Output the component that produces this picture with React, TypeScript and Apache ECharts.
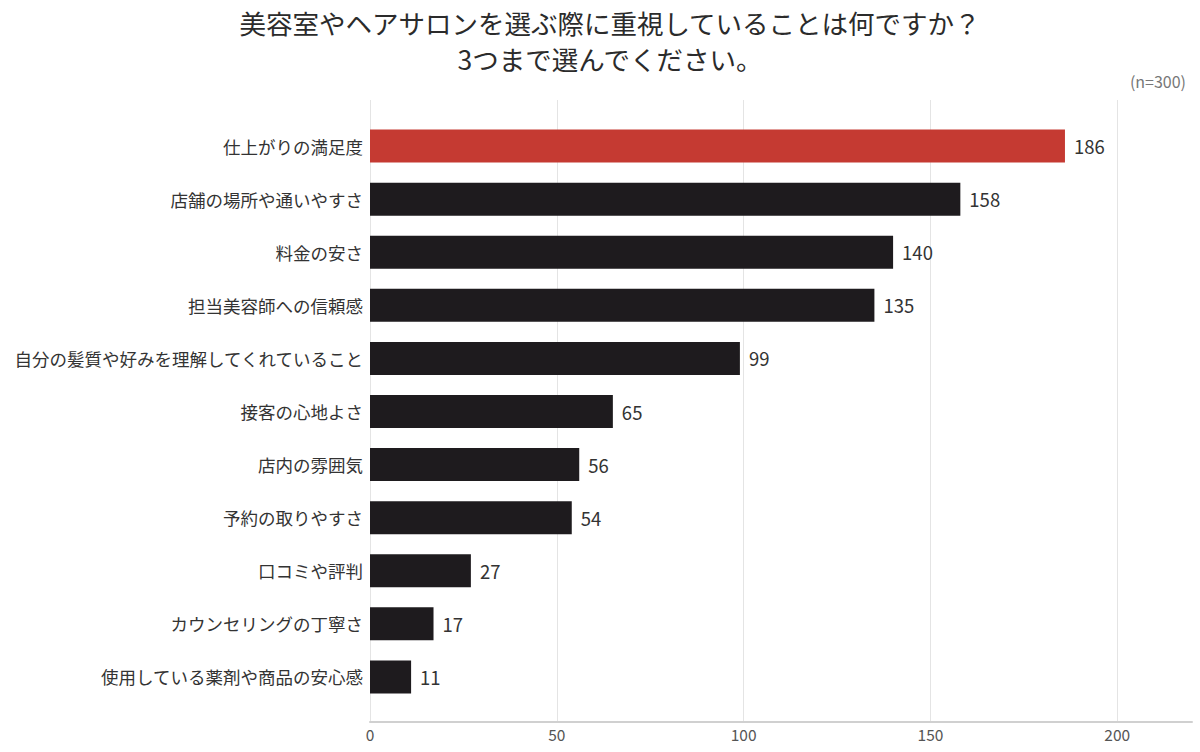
import React, { useEffect, useRef } from "react";
import * as echarts from "echarts";

const categories = [
  "仕上がりの満足度",
  "店舗の場所や通いやすさ",
  "料金の安さ",
  "担当美容師への信頼感",
  "自分の髪質や好みを理解してくれていること",
  "接客の心地よさ",
  "店内の雰囲気",
  "予約の取りやすさ",
  "口コミや評判",
  "カウンセリングの丁寧さ",
  "使用している薬剤や商品の安心感",
];
const values = [186, 158, 140, 135, 99, 65, 56, 54, 27, 17, 11];
const titleLines = ["美容室やヘアサロンを選ぶ際に重視していることは何ですか？", "3つまで選んでください。"];
const noteText = "(n=300)";

const FONT = "'Noto Sans CJK JP', 'Noto Sans', sans-serif";

export default function App() {
  const ref = useRef<HTMLDivElement>(null);
  useEffect(() => {
    if (!ref.current) return;
    const chart = echarts.init(ref.current, null, { renderer: "svg" });
    chart.setOption({
      animation: false,
      backgroundColor: "#ffffff",
      textStyle: { fontFamily: FONT },
      title: [
        {
          text: titleLines.join("\n"),
          left: 605,
          top: -1,
          textAlign: "center",
          textStyle: { fontSize: 26.5, fontWeight: "normal", color: "#2b2b2b", lineHeight: 36, fontFamily: FONT },
        },
        {
          text: noteText,
          right: 9,
          top: 68,
          textStyle: { fontSize: 16, fontWeight: "normal", color: "#777", fontFamily: FONT },
        },
      ],
      grid: [
        { left: 370, right: 8, top: 100, bottom: 30, containLabel: false },
        { left: 370, right: 8, top: 119.5, bottom: 48.5, containLabel: false },
      ],
      xAxis: [
        {
          type: "value",
          gridIndex: 0,
          min: 0,
          max: 220,
          interval: 50,
          axisLine: { show: true, lineStyle: { color: "#d0d0d0", width: 2 } },
          axisTick: { show: false },
          axisLabel: { color: "#555", fontSize: 15.5, margin: 4, showMaxLabel: false, fontFamily: FONT },
          splitLine: { show: true, showMaxLine: false, showMinLine: true, lineStyle: { color: "#e4e4e4", width: 1 } },
        },
        {
          type: "value",
          gridIndex: 1,
          min: 0,
          max: 220,
          show: false,
          splitLine: { show: false },
        },
      ],
      yAxis: [
        {
          type: "category",
          gridIndex: 0,
          data: categories,
          show: false,
        },
        {
          type: "category",
          gridIndex: 1,
          data: categories,
          inverse: true,
          axisLine: { show: false },
          axisTick: { show: false },
          axisLabel: { color: "#333", fontSize: 17.5, margin: 7, fontFamily: FONT },
          splitLine: { show: false },
        },
      ],
      series: [
        {
          type: "bar",
          xAxisIndex: 1,
          yAxisIndex: 1,
          barWidth: 33,
          data: values.map((v, i) => ({
            value: v,
            itemStyle: { color: i === 0 ? "#c53a32" : "#1e1b1e" },
          })),
          label: {
            show: true,
            position: "right",
            distance: 9,
            color: "#333",
            fontSize: 18.5,
            fontFamily: FONT,
          },
        },
      ],
    });
    return () => chart.dispose();
  }, []);
  return <div ref={ref} style={{ width: 1200, height: 752, position: "absolute", left: 0, top: 0 }} />;
}
